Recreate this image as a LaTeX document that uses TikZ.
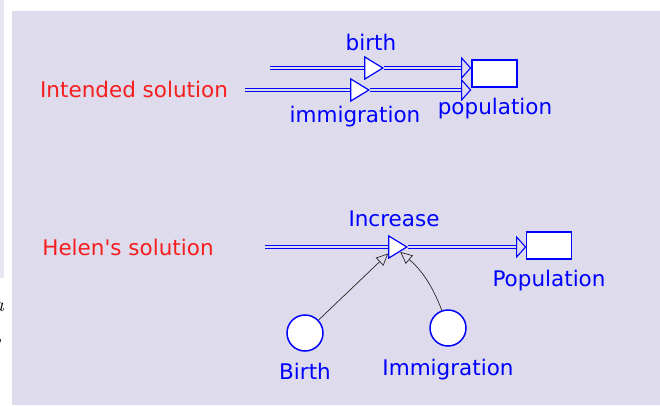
\documentclass[tikz,border=0pt]{standalone}
\usepackage{fontspec}
\newfontfamily\vfont{DejaVu Sans}
\usetikzlibrary{arrows.meta,shapes}
\definecolor{panel}{RGB}{222,220,236}
\definecolor{strip}{RGB}{230,230,242}
\definecolor{vblue}{RGB}{0,0,255}
\definecolor{vred}{RGB}{245,30,30}
\tikzstyle{stock}=[rectangle,draw=vblue,fill=white,line width=1.6pt,minimum width=45pt,minimum height=27pt,inner sep=0pt]
\tikzstyle{valve}=[isosceles triangle,isosceles triangle stretches,draw=vblue,fill=white,line width=1.2pt,minimum width=22pt,minimum height=18pt,inner sep=0pt]
\tikzstyle{head}=[isosceles triangle,isosceles triangle stretches,draw=vblue,fill=panel,line width=1.1pt,minimum width=20pt,minimum height=9pt,inner sep=0pt]
\tikzstyle{aux}=[circle,draw=vblue,fill=white,line width=1.5pt,minimum size=36pt,inner sep=0pt]
\tikzstyle{flow}=[draw=vblue,double=panel,line width=1.6pt,double distance=1.6pt]
\tikzstyle{infl}=[-{Triangle[open,length=12pt,width=11pt]},black!85,line width=0.7pt]
\tikzstyle{lbl}=[text=vblue,font=\vfont\fontsize{21.5}{25}\selectfont,anchor=base,inner sep=0pt]
\tikzstyle{sol}=[lbl,text=vred]

\begin{document}
\begin{tikzpicture}[x=1pt,y=-1pt]
\useasboundingbox (0,0) rectangle (660,405);
\clip (0,0) rectangle (660,405);
\fill[white] (0,0) rectangle (660,405);
\fill[panel] (12,11) rectangle (660,405);
\fill[strip] (0,0) rectangle (4,278);
\node[anchor=base east,inner sep=0pt,font=\itshape\fontsize{20}{24}\selectfont] (ca) at (4,311) {a};
\node[anchor=base east,inner sep=0pt,font=\itshape\fontsize{20}{24}\selectfont] (cc) at (3,341) {,};
% intended solution
\node[sol] (t1) at (134,97) {Intended solution};
\node[stock] (pop1) at (494.5,73.5) {};
\node[head,anchor=apex] (hB) at (472,68) {};
\node[head,anchor=apex] (hI) at (472,90) {};
\node[valve] (vB) at (371,68) {};
\node[valve] (vI) at (357,90) {};
\coordinate (sB) at (270,68);
\coordinate (sI) at (245,90);
\draw[flow] (sB) -- (vB); \draw[flow] (vB) -- (hB);
\draw[flow] (sI) -- (vI); \draw[flow] (vI) -- (hI);
\node[lbl] (lb) at (371,50) {birth};
\node[lbl] (li) at (355,122) {immigration};
\node[lbl] (lp) at (495,114) {population};
% Helen's solution
\node[sol] (t2) at (128,255) {Helen\textquotesingle s solution};
\node[stock] (pop2) at (549,245.5) {};
\node[head,anchor=apex] (hA) at (527,247) {};
\node[valve] (vA) at (395,247) {};
\coordinate (sA) at (265,247);
\draw[flow] (sA) -- (vA); \draw[flow] (vA) -- (hA);
\node[aux] (bA) at (305,333) {};
\node[aux] (iA) at (448,328) {};
\draw[infl] (bA) -- (vA);
\draw[infl] (iA) to[bend right=14] (vA);
\node[lbl] (la) at (394,226) {Increase};
\node[lbl] (lP) at (549,286) {Population};
\node[lbl] (lB) at (305,379) {Birth};
\node[lbl] (lI) at (448,375) {Immigration};
\end{tikzpicture}
\end{document}
